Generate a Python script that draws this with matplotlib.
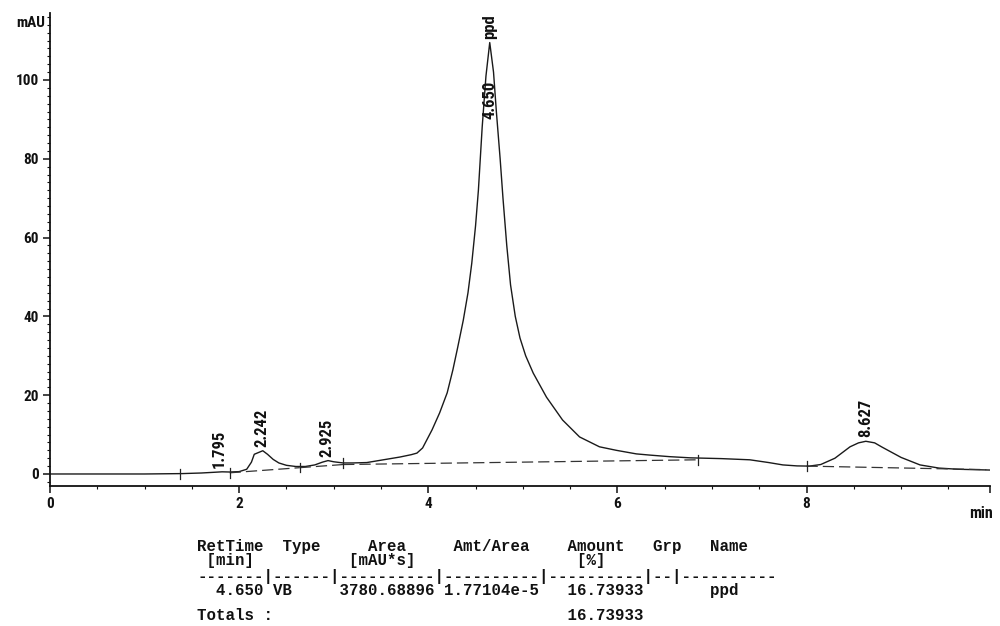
import matplotlib
matplotlib.use("Agg")
import matplotlib.pyplot as plt
from matplotlib.ticker import MultipleLocator
from matplotlib import font_manager
import matplotlib.transforms as mtransforms

# ---- data ----
time_min = [0.0, 0.5, 1.0, 1.4, 1.6, 1.75, 1.82, 1.9, 2.0, 2.08, 2.13, 2.16, 2.2, 2.25,
            2.3, 2.36, 2.42, 2.5, 2.6, 2.7, 2.8, 2.88, 2.94, 3.0, 3.1, 3.2, 3.35, 3.5,
            3.7, 3.82, 3.88, 3.94, 4.04, 4.12, 4.20, 4.26, 4.31, 4.37, 4.42, 4.46, 4.50,
            4.53, 4.57, 4.61, 4.65, 4.69, 4.72, 4.76, 4.79, 4.83, 4.87, 4.92, 4.97, 5.03,
            5.11, 5.25, 5.42, 5.6, 5.81, 5.99, 6.2, 6.34, 6.55, 6.77, 7.1, 7.4, 7.6, 7.75,
            7.9, 8.03, 8.15, 8.3, 8.46, 8.55, 8.627, 8.72, 8.8, 9.0, 9.2, 9.4, 9.6, 9.94]
signal_mAU = [0.0, 0.0, 0.0, 0.1, 0.25, 0.45, 0.55, 0.5, 0.6, 1.2, 3.0, 5.0, 5.4, 5.9,
              5.0, 3.7, 2.8, 2.2, 1.9, 1.9, 2.3, 3.0, 3.4, 3.1, 2.8, 2.8, 2.9, 3.5,
              4.3, 4.9, 5.3, 6.6, 11.2, 15.5, 20.6, 26.4, 32.0, 39.0, 46.0, 53.5, 63.0,
              72.0, 88.0, 101.0, 109.5, 102.0, 92.0, 80.0, 70.0, 58.0, 48.0, 40.0, 34.5, 30.0,
              25.6, 19.5, 13.7, 9.4, 6.9, 6.0, 5.1, 4.8, 4.4, 4.1, 3.9, 3.6, 2.9, 2.3,
              2.05, 2.0, 2.4, 4.0, 6.9, 7.9, 8.3, 7.9, 6.8, 4.2, 2.3, 1.5, 1.2, 1.0]

# integration baselines
baseline_t = [[1.9, 2.64], [2.64, 3.1], [3.1, 6.85], [8.0, 9.9]]
baseline_y = [[0.3, 1.6], [1.6, 2.4], [2.4, 3.6], [2.0, 1.1]]

# peak boundary marks
mark_t = [1.37, 1.9, 2.64, 3.1, 6.85, 8.0]
mark_y = [0.0, 0.3, 1.6, 2.8, 3.6, 2.0]

# peak labels
peak_rt = [1.795, 2.242, 2.925, 8.627]
peak_h = [0.55, 5.9, 3.4, 8.3]
peak_lbl = ["1.795", "2.242", "2.925", "8.627"]
main_rt = 4.65
main_h = 109.5
main_lbl = "4.650"
main_name = "ppd"

x_ticks = [0, 2, 4, 6, 8]
y_ticks = [0, 20, 40, 60, 80, 100]
x_end = 9.94

# report table
tbl_header1 = "RetTime  Type     Area     Amt/Area    Amount   Grp   Name"
tbl_header2 = " [min]          [mAU*s]                 [%]"
tbl_rule = "-------|------|----------|----------|----------|--|----------"
tbl_row = "  4.650 VB     3780.68896 1.77104e-5   16.73933       ppd"
tbl_total = "Totals :                               16.73933"

# ---- pick a narrow bold sans font if one exists ----
fonts = font_manager.fontManager.ttflist
narrow = None
for nm in ["Liberation Sans Narrow", "Arial Narrow", "Roboto Condensed",
           "Open Sans Condensed", "Noto Sans Condensed"]:
    if any(f.name == nm for f in fonts):
        narrow = dict(family=[nm, "DejaVu Sans"], stretch="normal")
        break
if narrow is None:
    if any(f.name == "DejaVu Sans" and f.stretch == "condensed" for f in fonts):
        narrow = dict(family=["DejaVu Sans"], stretch="condensed")
    else:
        narrow = dict(family=["Liberation Sans", "DejaVu Sans"], stretch="normal")

fig = plt.figure(figsize=(10.0, 6.26), dpi=100)
ax = fig.add_axes([0.05, 1 - 486 / 626, 0.94, (486 - 13) / 626])
ax.set_xlim(0, x_end)
ax.set_ylim(-3.05, 117)

ax.plot(time_min, signal_mAU, color="#1a1a1a", lw=1.0)
for bt, by in zip(baseline_t, baseline_y):
    ax.plot(bt, by, color="#333333", lw=0.9, dashes=(9, 4))
for mt, my in zip(mark_t, mark_y):
    ax.plot([mt, mt], [my - 1.2, my + 1.2], color="#222222", lw=0.9)

lbl_kw = dict(rotation=90, ha="center", va="bottom", weight="bold",
              fontsize=12, color="#111111", **narrow)
for rt, h, lb in zip(peak_rt, peak_h, peak_lbl):
    ax.text(rt, h + 1.0, lb, **lbl_kw)
ax.text(main_rt, main_h - 19.5, main_lbl, **lbl_kw)
ax.text(main_rt, main_h + 0.8, main_name, clip_on=False, **lbl_kw)

for s in ["top", "right"]:
    ax.spines[s].set_visible(False)
for s in ["left", "bottom"]:
    ax.spines[s].set_linewidth(1.3)
    ax.spines[s].set_color("#111111")

ax.set_xticks(x_ticks + [x_end])
ax.set_xticklabels([str(v) for v in x_ticks] + [""])
ax.set_yticks(y_ticks)
ax.set_yticklabels([str(v) for v in y_ticks])
ax.xaxis.set_minor_locator(MultipleLocator(0.5))
ax.yaxis.set_minor_locator(MultipleLocator(2))
ax.tick_params(which="major", direction="out", length=5, width=1.1, colors="#111111", pad=3)
ax.tick_params(which="minor", direction="out", length=2.5, width=0.8, colors="#111111")
for t in ax.get_xticklabels() + ax.get_yticklabels():
    t.set_family(narrow["family"])
    t.set_stretch(narrow["stretch"])
    t.set_weight("bold")
    t.set_fontsize(11)

trans = mtransforms.blended_transform_factory(ax.transAxes, ax.transData)
ax.text(-0.005, 114.5, "mAU", transform=trans, ha="right", va="center",
        weight="bold", fontsize=11, color="#111111", **narrow)
fig.text(0.993, 1 - 513 / 626, "min", ha="right", va="center",
         weight="bold", fontsize=11.5, color="#111111", **narrow)

# ---- report table ----
mono = ["Liberation Mono", "DejaVu Sans Mono"]
x0 = 197 / 1000
for line, ypix in [(tbl_header1, 547), (tbl_header2, 561), (tbl_rule, 576),
                   (tbl_row, 591), (tbl_total, 616)]:
    fig.text(x0, 1 - ypix / 626, line, family=mono, weight="bold", fontsize=11.35,
             ha="left", va="center", color="#111111")

fig.savefig("out.png", dpi=100, facecolor="white")
